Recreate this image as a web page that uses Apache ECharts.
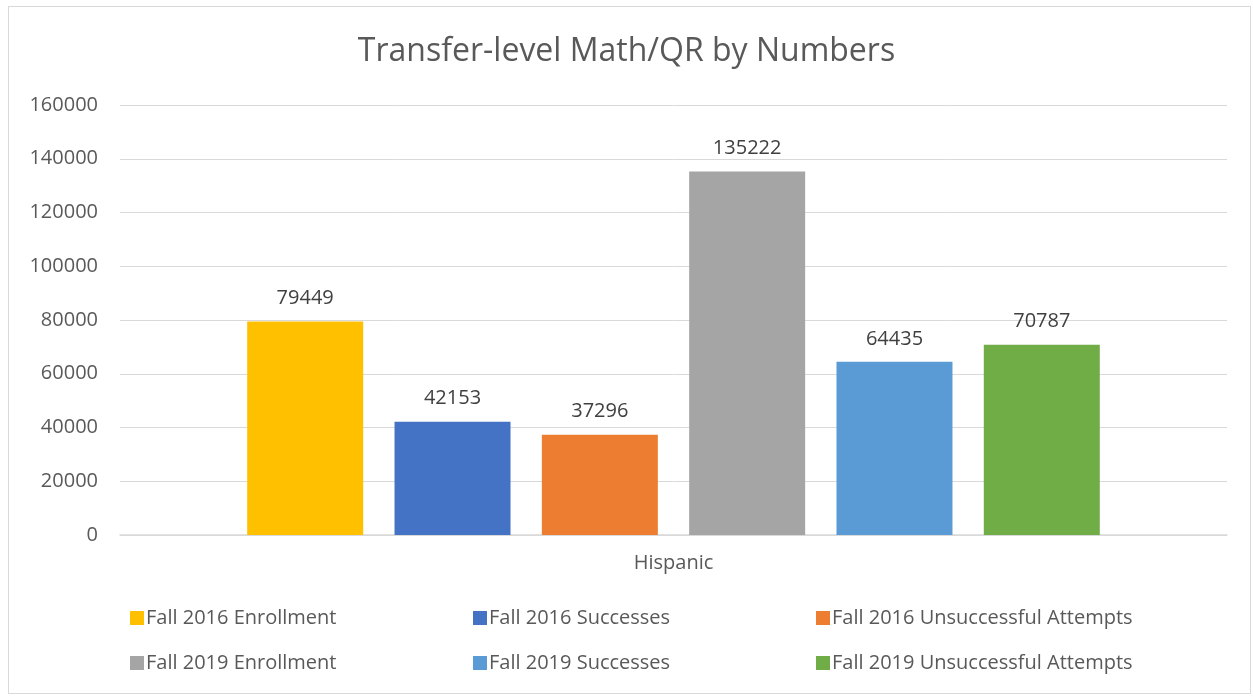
<!DOCTYPE html>
<html>
<head>
    <meta charset="utf-8"/>
    <title>Transfer-level Math/QR by Numbers</title>
    <script src="https://cdn.jsdelivr.net/npm/echarts@6/dist/echarts.min.js"></script>
    <style>
        html, body { margin: 0; padding: 0; background: #fff; }
        #frame {
            position: absolute; left: 8px; top: 6px; width: 1243px; height: 688px;
            border: 1px solid #d9d9d9; box-sizing: border-box;
        }
        #chart { position: absolute; left: 0; top: 0; width: 1253px; height: 696px; }
    </style>
</head>
<body>
<div id="frame"></div>
<div id="chart"></div>
<script>
    var categories = ['Hispanic'];
    var seriesNames = [
        'Fall 2016 Enrollment', 'Fall 2016 Successes', 'Fall 2016 Unsuccessful Attempts',
        'Fall 2019 Enrollment', 'Fall 2019 Successes', 'Fall 2019 Unsuccessful Attempts'
    ];
    var seriesValues = [[79449], [42153], [37296], [135222], [64435], [70787]];
    var colors = ['#ffc000', '#4472c4', '#ed7d31', '#a5a5a5', '#5b9bd5', '#70ad47'];

    var font = 'Open Sans';
    var myChart = echarts.init(document.getElementById('chart'));

    var series = seriesNames.map(function (name, i) {
        return {
            name: name,
            type: 'bar',
            data: seriesValues[i],
            barWidth: 116,
            barGap: '27%',
            itemStyle: { color: colors[i] },
            label: {
                show: true,
                position: 'top',
                distance: 13,
                color: '#404040',
                fontFamily: font,
                fontSize: 20
            }
        };
    });

    // one legend per item, laid out in a 3 x 2 grid
    var legends = seriesNames.map(function (name, i) {
        return {
            top: i < 3 ? 603 : 648,
            left: 125 + (i % 3) * 343,
            itemWidth: 14,
            itemHeight: 14,
            icon: 'rect',
            data: [name],
            textStyle: {
                color: '#595959',
                fontFamily: font,
                fontSize: 20,
                padding: [0, 0, 0, -3]
            }
        };
    });

    var option = {
        animation: false,
        title: {
            text: 'Transfer-level Math/QR by Numbers',
            left: 'center',
            top: 31,
            textStyle: { color: '#595959', fontFamily: font, fontSize: 32, fontWeight: 'normal' }
        },
        legend: legends,
        grid: { left: 120, right: 26, top: 105, bottom: 161 },
        xAxis: {
            type: 'category',
            data: categories,
            axisLine: { lineStyle: { color: '#d9d9d9', width: 1.5 } },
            axisTick: { show: false },
            axisLabel: { color: '#595959', fontFamily: font, fontSize: 20, margin: 18 }
        },
        yAxis: {
            type: 'value',
            min: 0,
            max: 160000,
            interval: 20000,
            axisLine: { show: false },
            axisTick: { show: false },
            splitLine: { lineStyle: { color: '#d9d9d9', width: 1 } },
            axisLabel: {
                color: '#595959', fontFamily: font, fontSize: 20, margin: 22,
                formatter: function (v) { return String(v); }
            }
        },
        series: series
    };
    myChart.setOption(option);
</script>
</body>
</html>
